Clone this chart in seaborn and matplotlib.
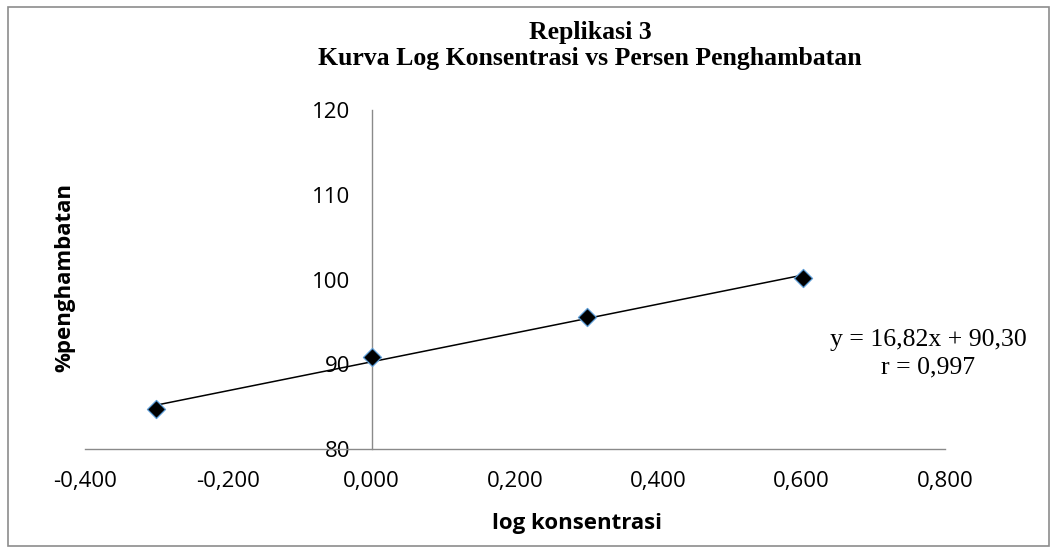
import matplotlib
matplotlib.use("Agg")
import matplotlib.pyplot as plt
import seaborn as sns
import pandas as pd
from matplotlib.patches import Rectangle

# ---- data ----
log_konsentrasi = [-0.301, 0.000, 0.301, 0.602]
penghambatan = [84.7, 90.9, 95.6, 100.2]
x_ticks = [-0.4, -0.2, 0.0, 0.2, 0.4, 0.6, 0.8]
x_tick_labels = ["-0,400", "-0,200", "0,000", "0,200", "0,400", "0,600", "0,800"]
y_ticks = [80, 90, 100, 110, 120]
y_tick_labels = ["80", "90", "100", "110", "120"]
title_lines = ["Replikasi 3", "Kurva Log Konsentrasi vs Persen Penghambatan"]
equation = "y = 16,82x + 90,30\nr = 0,997"
x_label = "log konsentrasi"
y_label = "%penghambatan"

df = pd.DataFrame({"x": log_konsentrasi, "y": penghambatan})

sns.set_theme(style="white")
plt.rcParams["font.family"] = ["Open Sans", "DejaVu Sans"]
plt.rcParams["text.color"] = "black"

W, H = 1056, 550
fig = plt.figure(figsize=(W / 100, H / 100), dpi=100)
ax = fig.add_axes([85 / W, 1 - 449 / H, (945 - 85) / W, (449 - 110) / H])

sns.regplot(data=df, x="x", y="y", scatter=False, ci=None, ax=ax,
            color="black", line_kws={"linewidth": 1.1})
sns.scatterplot(data=df, x="x", y="y", ax=ax, marker="D", s=85,
                color="black", edgecolor="#5b9bd5", linewidth=0.9, zorder=5)

ax.set_xlim(-0.4, 0.8)
ax.set_ylim(80, 120)
ax.set_xticks(x_ticks, x_tick_labels)
ax.set_yticks(y_ticks, y_tick_labels)
ax.set_xlabel("")
ax.set_ylabel("")

spine_col = "#8a8a8a"
ax.spines["left"].set_position(("data", 0))
for s in ["top", "right"]:
    ax.spines[s].set_visible(False)
for s in ["left", "bottom"]:
    ax.spines[s].set_color(spine_col)
    ax.spines[s].set_linewidth(1.0)
ax.tick_params(axis="both", which="major", direction="out", length=6.5, width=1.0,
               color=spine_col, labelsize=16, labelcolor="black")
ax.tick_params(axis="x", pad=9)
ax.tick_params(axis="y", pad=9)
ax.set_facecolor("none")
ax.grid(False)

serif = ["Liberation Serif", "DejaVu Serif"]
# titles and labels
fig.text(590 / W, 1 - 32 / H, title_lines[0], ha="center", va="center",
         fontsize=18.5, fontweight="bold", family=serif, color="black")
fig.text(590 / W, 1 - 59 / H, title_lines[1], ha="center", va="center",
         fontsize=18.5, fontweight="bold", family=serif, color="black")
fig.text(577 / W, 1 - 523 / H, x_label, ha="center", va="center",
         fontsize=16, fontweight="bold", color="black")
fig.text(65 / W, 1 - 278 / H, y_label, ha="center", va="center", rotation=90,
         fontsize=16, fontweight="bold", color="black")
fig.text(928 / W, 1 - 354 / H, equation, ha="center", va="center",
         fontsize=18.5, family=serif, linespacing=1.3, color="black")

# chart border
fig.patches.append(Rectangle((8 / W, 4 / H), (1049 - 8) / W, (543 - 4) / H,
                             transform=fig.transFigure, fill=False,
                             edgecolor="#8c8c8c", linewidth=1.2))

fig.savefig("out.png", dpi=100, facecolor="white")
